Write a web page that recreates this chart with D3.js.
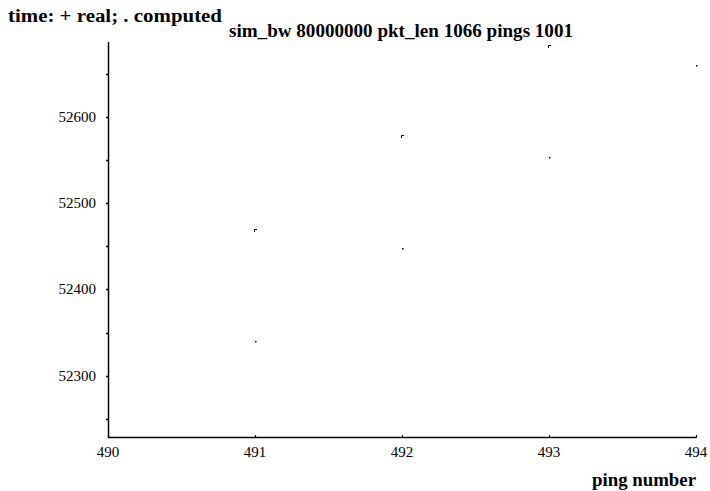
<!DOCTYPE html>
<html><head><meta charset="utf-8">
<script src="https://cdn.jsdelivr.net/npm/d3@7"></script>
<style>
body{margin:0;background:#fff;}
svg text{font-family:"Liberation Serif",serif;}
</style></head>
<body><svg id="c" width="710" height="491"></svg>
<script>
const realX = [491, 492, 493, 494];
const realY = [52470, 52579, 52683, 52760];
const compX = [491, 492, 493, 494];
const compY = [52340, 52448, 52553, 52660];
const xTicks = [490, 491, 492, 493, 494];
const yMajor = [52300, 52400, 52500, 52600];
const yMinor = [52250, 52350, 52450, 52550, 52650];
const titleText = "sim_bw 80000000 pkt_len 1066 pings 1001";
const legendText = "time: + real; . computed";
const xLabel = "ping number";

const svg = d3.select("#c");
const x = d3.scaleLinear().domain([490, 494]).range([108, 696]);
const y = d3.scaleLinear().domain([52300, 52600]).range([375.7, 116.7]);
const yTop = 42, yBot = 437;

// axes lines
svg.append("line").attr("x1",108.5).attr("x2",108.5).attr("y1",yTop).attr("y2",yBot+0.5).attr("stroke","#000").attr("stroke-width",1.5);
svg.append("line").attr("x1",108).attr("x2",696).attr("y1",yBot+0.5).attr("y2",yBot+0.5).attr("stroke","#000").attr("stroke-width",1.5);

// y ticks
svg.selectAll(".yt").data(yMajor.concat(yMinor)).enter().append("line")
  .attr("x1",106).attr("x2",109).attr("y1",d=>Math.round(y(d))+0.5).attr("y2",d=>Math.round(y(d))+0.5)
  .attr("stroke","#000").attr("stroke-width",1.5);
svg.selectAll(".yl").data(yMajor).enter().append("text")
  .attr("x",96).attr("y",d=>y(d)+5).attr("text-anchor","end").attr("font-size",15).text(d=>d);

// x ticks
svg.selectAll(".xt").data(xTicks).enter().append("line")
  .attr("x1",d=>Math.round(x(d))+0.5).attr("x2",d=>Math.round(x(d))+0.5).attr("y1",yBot-2).attr("y2",yBot+1)
  .attr("stroke","#000").attr("stroke-width",1.2);
svg.selectAll(".xl").data(xTicks).enter().append("text")
  .attr("x",d=>x(d)).attr("y",yBot+20).attr("text-anchor","middle").attr("font-size",15).text(d=>d);

// title and labels
svg.append("text").attr("x",229).attr("y",37).attr("font-size",18.5).attr("font-weight","bold")
  .attr("textLength",344).attr("lengthAdjust","spacingAndGlyphs").text(titleText);
svg.append("text").attr("x",8).attr("y",22).attr("font-size",18).attr("font-weight","bold")
  .attr("textLength",214).attr("lengthAdjust","spacingAndGlyphs").text(legendText);
svg.append("text").attr("x",592).attr("y",486).attr("font-size",18.5).attr("font-weight","bold")
  .attr("textLength",104).attr("lengthAdjust","spacingAndGlyphs").text(xLabel);

// real points (tiny corner marks)
const reals = realX.map((d,i)=>[d, realY[i]]).filter(p=>y(p[1])>=yTop);
svg.selectAll(".rp").data(reals).enter().append("path")
  .attr("d",p=>{const px=Math.round(x(p[0]))-1, py=Math.round(y(p[1]));return `M${px+0.5},${py+3}V${py+0.5}H${px+3}`;})
  .attr("fill","none").attr("stroke","#000").attr("stroke-width",1);
// computed points
svg.selectAll(".cp").data(compX.map((d,i)=>[d, compY[i]])).enter().append("rect")
  .attr("x",p=>Math.round(x(p[0]))).attr("y",p=>Math.round(y(p[1]))).attr("width",1.5).attr("height",1.5).attr("fill","#000");
</script></body></html>
